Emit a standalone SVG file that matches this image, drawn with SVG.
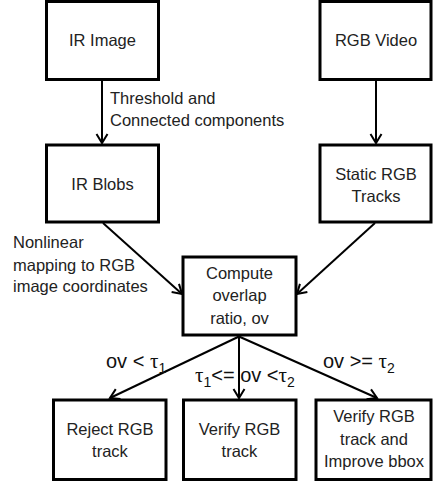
<svg xmlns="http://www.w3.org/2000/svg" width="433" height="482" viewBox="0 0 433 482">
<style>
.box{fill:#fff;stroke:#000;stroke-width:3}
.t{font-family:"Liberation Sans",Arial,sans-serif;font-size:16.5px;fill:#222;text-anchor:middle}
.l{font-family:"Liberation Sans",Arial,sans-serif;font-size:16.5px;fill:#222}
.c{font-family:"Liberation Sans",Arial,sans-serif;font-size:20px;fill:#111}
.g{font-family:"Liberation Serif","Times New Roman",serif;font-size:21px}
.s{font-size:14px}
.conn line{stroke:#000;stroke-width:2;fill:none;marker-end:url(#ah)}
</style>
<defs>
<marker id="ah" markerUnits="userSpaceOnUse" markerWidth="14" markerHeight="14" refX="10" refY="6" orient="auto" overflow="visible">
<path d="M1,0.5 L10,6 L1,11.5" fill="none" stroke="#000" stroke-width="2"/>
</marker>
</defs>
<rect width="433" height="482" fill="#fff"/>
<g id="connectors" class="conn">
<line x1="102" y1="80.5" x2="102" y2="143"/>
<line x1="376" y1="80.5" x2="376" y2="143"/>
<line x1="103" y1="223" x2="182" y2="294"/>
<line x1="375" y1="223" x2="297" y2="294"/>
<line x1="239" y1="336.5" x2="110" y2="398"/>
<line x1="239" y1="336.5" x2="239" y2="398"/>
<line x1="239" y1="336.5" x2="377" y2="398"/>
</g>
<g id="ir-image"><rect class="box" x="46.5" y="1.5" width="112" height="78"/><text class="t" x="102.5" y="46">IR Image</text></g>
<g id="rgb-video"><rect class="box" x="320" y="1.5" width="111" height="78"/><text class="t" x="376" y="46">RGB Video</text></g>
<g id="ir-blobs"><rect class="box" x="46.5" y="145" width="112" height="77"/><text class="t" x="102.5" y="190">IR Blobs</text></g>
<g id="static-rgb"><rect class="box" x="320" y="145" width="111" height="77"/><text class="t" x="376" y="179.5">Static RGB</text><text class="t" x="376" y="201.5">Tracks</text></g>
<g id="compute"><rect class="box" x="183" y="257" width="113" height="78"/><text class="t" x="239.5" y="278.5">Compute</text><text class="t" x="239.5" y="301">overlap</text><text class="t" x="239.5" y="323.5">ratio, ov</text></g>
<g id="reject"><rect class="box" x="53.5" y="400" width="112.5" height="79.5"/><text class="t" x="110" y="435">Reject RGB</text><text class="t" x="110" y="457">track</text></g>
<g id="verify"><rect class="box" x="183.5" y="400" width="112.5" height="79.5"/><text class="t" x="239.5" y="435">Verify RGB</text><text class="t" x="239.5" y="457">track</text></g>
<g id="improve"><rect class="box" x="316" y="400" width="115" height="79.5"/><text class="t" x="374" y="421.5">Verify RGB</text><text class="t" x="374" y="445">track and</text><text class="t" x="374" y="467">Improve bbox</text></g>
<g id="labels">
<text class="l" x="110" y="103.5">Threshold and</text>
<text class="l" x="110" y="126">Connected components</text>
<text class="l" x="13" y="248">Nonlinear</text>
<text class="l" x="13" y="271">mapping to RGB</text>
<text class="l" x="13" y="292">image coordinates</text>
<text class="c" x="106" y="368">ov &lt; <tspan class="g">τ</tspan><tspan class="s" dy="5">1</tspan></text>
<text class="c" x="195" y="381.5"><tspan class="g">τ</tspan><tspan class="s" dy="5">1</tspan><tspan dy="-5">&lt;= ov &lt;</tspan><tspan class="g">τ</tspan><tspan class="s" dy="5">2</tspan></text>
<text class="c" x="323" y="368">ov &gt;= <tspan class="g">τ</tspan><tspan class="s" dy="5">2</tspan></text>
</g>
</svg>
